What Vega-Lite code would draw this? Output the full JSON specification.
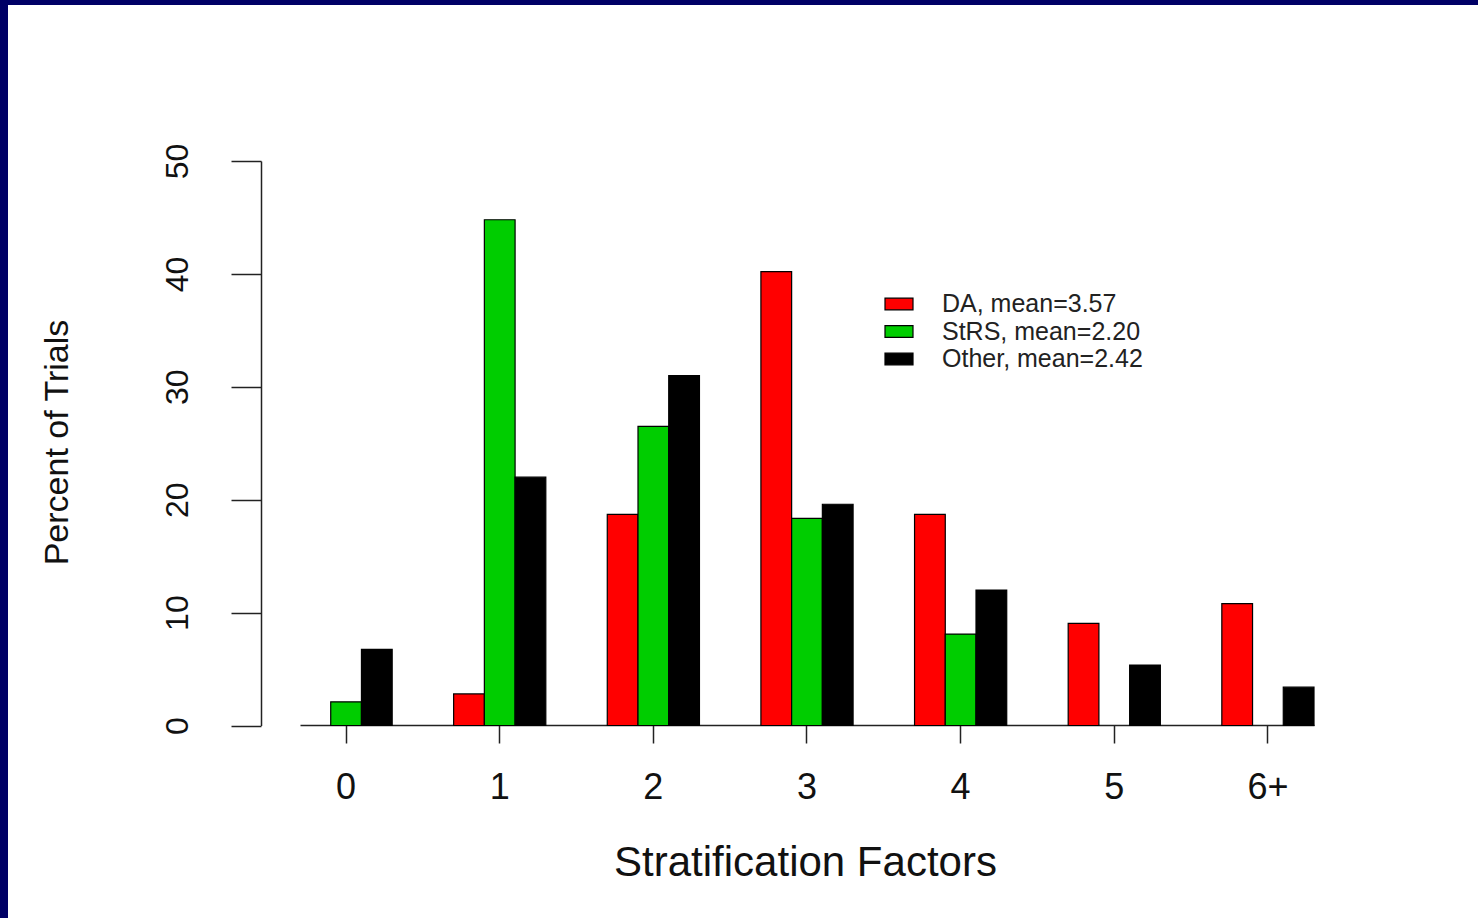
{
  "$schema": "https://vega.github.io/schema/vega-lite/v6.json",
  "autosize": {"type": "none"},
  "width": 1470,
  "height": 913,
  "padding": {"left": 8, "top": 5, "right": 0, "bottom": 0},
  "background": "#000066",
  "config": {
    "view": {"stroke": null, "fill": "#ffffff"},
    "font": "Liberation Sans"
  },
  "data": {
    "values": [
      {"factors": "0", "group": "StRS", "percent": 2.1},
      {"factors": "0", "group": "Other", "percent": 6.75},
      {"factors": "1", "group": "DA", "percent": 2.8},
      {"factors": "1", "group": "StRS", "percent": 44.8},
      {"factors": "1", "group": "Other", "percent": 22.0},
      {"factors": "2", "group": "DA", "percent": 18.7},
      {"factors": "2", "group": "StRS", "percent": 26.5},
      {"factors": "2", "group": "Other", "percent": 31.0},
      {"factors": "3", "group": "DA", "percent": 40.2},
      {"factors": "3", "group": "StRS", "percent": 18.35},
      {"factors": "3", "group": "Other", "percent": 19.6},
      {"factors": "4", "group": "DA", "percent": 18.7},
      {"factors": "4", "group": "StRS", "percent": 8.1},
      {"factors": "4", "group": "Other", "percent": 12.0},
      {"factors": "5", "group": "DA", "percent": 9.05},
      {"factors": "5", "group": "Other", "percent": 5.36},
      {"factors": "6+", "group": "DA", "percent": 10.8},
      {"factors": "6+", "group": "Other", "percent": 3.4}
    ]
  },
  "mark": {"type": "bar", "stroke": "#000000", "strokeWidth": 1.2},
  "encoding": {
    "x": {
      "field": "factors",
      "type": "nominal",
      "scale": {
        "domain": ["pad", "0", "1", "2", "3", "4", "5", "6+"],
        "paddingInner": 0.4,
        "paddingOuter": 0.984,
        "align": 0.4576
      },
      "axis": {
        "orient": "bottom",
        "offset": -193,
        "values": ["0", "1", "2", "3", "4", "5", "6+"],
        "title": "Stratification Factors",
        "titleFont": "Liberation Sans",
        "titleFontSize": 42,
        "titleFontWeight": "normal",
        "titleColor": "#111111",
        "titleX": 797,
        "titleY": 150,
        "titleAlign": "center",
        "titleBaseline": "alphabetic",
        "labelAngle": 0,
        "labelFont": "Liberation Sans",
        "labelFontSize": 36,
        "labelColor": "#111111",
        "labelBaseline": "alphabetic",
        "labelPadding": 55,
        "tickSize": 18,
        "tickWidth": 1.5,
        "tickColor": "#222222",
        "domainColor": "#222222",
        "domainWidth": 1.5,
        "domainDash": [0, 292, 1014, 3000],
        "grid": false
      }
    },
    "xOffset": {
      "field": "group",
      "type": "nominal",
      "sort": ["DA", "StRS", "Other"],
      "scale": {"domain": ["DA", "StRS", "Other"], "paddingInner": 0, "paddingOuter": 0}
    },
    "y": {
      "field": "percent",
      "type": "quantitative",
      "scale": {"domain": [-17.05, 63.82], "nice": false, "zero": false},
      "axis": {
        "orient": "left",
        "offset": -253,
        "values": [0, 10, 20, 30, 40, 50],
        "title": "Percent of Trials",
        "titleFont": "Liberation Sans",
        "titleFontSize": 34,
        "titleFontWeight": "normal",
        "titleColor": "#111111",
        "titleAngle": 270,
        "titleX": -194,
        "titleY": 437,
        "titleAlign": "center",
        "titleBaseline": "alphabetic",
        "labelAngle": 270,
        "labelAlign": "center",
        "labelBaseline": "alphabetic",
        "labelFont": "Liberation Sans",
        "labelFontSize": 32,
        "labelColor": "#111111",
        "labelPadding": 44,
        "tickSize": 30,
        "tickWidth": 1.5,
        "tickColor": "#222222",
        "domainColor": "#222222",
        "domainWidth": 1.5,
        "domainDash": [0, 192.5, 564.5, 3000],
        "grid": false
      }
    },
    "y2": {"datum": 0},
    "color": {
      "field": "group",
      "type": "nominal",
      "scale": {"domain": ["DA", "StRS", "Other"], "range": ["#FF0000", "#00CD00", "#000000"]},
      "legend": {
        "orient": "none",
        "legendX": 877,
        "legendY": 285,
        "title": null,
        "symbolType": "M-1.077,-0.45H1.077V0.45H-1.077Z",
        "symbolSize": 676,
        "symbolStrokeColor": "#000000",
        "symbolStrokeWidth": 1.2,
        "symbolOpacity": 1,
        "labelFont": "Liberation Sans",
        "labelFontSize": 25,
        "labelColor": "#222222",
        "labelOffset": 29,
        "labelLimit": 500,
        "rowPadding": 0.5,
        "labelExpr": "datum.label == 'DA' ? 'DA, mean=3.57' : datum.label == 'StRS' ? 'StRS, mean=2.20' : 'Other, mean=2.42'"
      }
    }
  }
}
